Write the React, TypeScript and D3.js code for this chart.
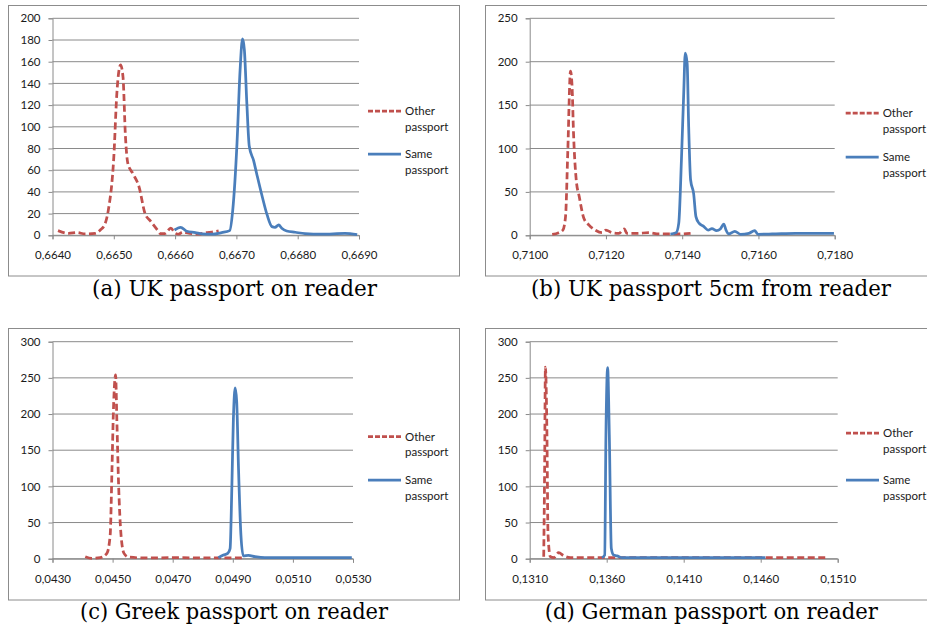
import React, { useEffect, useRef } from "react";
import * as d3 from "d3";

// values: [x, count]
const ukOther = [
  [0.66409, 4.3], [0.66426, 1.8], [0.6644, 2.5], [0.66453, 1.2], [0.6647, 1.8],
  [0.66478, 4.9], [0.66486, 11], [0.66491, 23], [0.665, 72], [0.66505, 131],
  [0.66511, 157], [0.66515, 146], [0.66519, 91], [0.66523, 66], [0.66531, 57],
  [0.66541, 45], [0.66551, 20], [0.6656, 13], [0.66571, 5], [0.66576, 1.5],
  [0.66583, 1.5], [0.66593, 6.5], [0.666, 2], [0.66606, 1], [0.66612, 3],
  [0.66622, 2], [0.66638, 1], [0.6665, 2.5], [0.6666, 3], [0.66671, 4],
];
const ukSame = [
  [0.66599, 4.9], [0.66609, 7.4], [0.66619, 3.7], [0.66633, 2.5], [0.66644, 1.2],
  [0.6666, 1], [0.66676, 2.5], [0.66689, 4.3], [0.66694, 23], [0.66701, 85],
  [0.66706, 152], [0.6671, 181], [0.66713, 171], [0.66717, 122], [0.66721, 82],
  [0.66728, 69], [0.66733, 57], [0.66742, 36], [0.6675, 19], [0.66758, 8],
  [0.66763, 7.4], [0.66769, 9.5], [0.66774, 6.5], [0.66782, 4], [0.66796, 2.8],
  [0.66812, 1.5], [0.66839, 1], [0.66877, 1.8], [0.66897, 0.6],
];
const uk5Other = [
  [0.71059, 1], [0.71076, 3], [0.71087, 6], [0.71094, 21.5], [0.711, 98],
  [0.71107, 189], [0.71111, 173], [0.71115, 117], [0.71122, 64], [0.7113, 44.5],
  [0.71142, 19.6], [0.71155, 12], [0.71172, 6], [0.7119, 3], [0.712, 6],
  [0.71216, 3], [0.71234, 2.3], [0.71248, 7.3], [0.71255, 2.3], [0.71282, 2.3],
  [0.71312, 3], [0.71339, 1.5], [0.71365, 1.5], [0.71391, 1.5], [0.71422, 2.3],
];
const uk5Same = [
  [0.71369, 1.5], [0.71384, 3], [0.71391, 14], [0.71398, 87], [0.71404, 164],
  [0.71408, 210], [0.71413, 198], [0.71417, 125], [0.71422, 64], [0.7143, 48],
  [0.71436, 21.5], [0.71444, 14], [0.71457, 10], [0.71468, 6], [0.71478, 7.7],
  [0.7149, 5.4], [0.715, 7.3], [0.71509, 13], [0.71515, 6], [0.71522, 1.5],
  [0.71538, 4.6], [0.71553, 1.2], [0.71575, 2.3], [0.7159, 5.4], [0.71599, 1.2],
  [0.71636, 1.5], [0.71697, 2.3], [0.71798, 2.3],
];
const greekOther = [
  [0.04409, 2.8], [0.04431, 0.5], [0.04459, 1.4], [0.04481, 7.4], [0.04492, 33],
  [0.04498, 125], [0.04503, 208], [0.0451, 254], [0.04514, 194], [0.0452, 102],
  [0.04528, 33], [0.04538, 7.4], [0.04553, 2.3], [0.04608, 1], [0.04719, 1.4],
  [0.0483, 1], [0.04874, 1], [0.0493, 1],
];
const greekSame = [
  [0.04852, 1.4], [0.04869, 5], [0.04883, 7.4], [0.04891, 14], [0.04897, 102],
  [0.04902, 194], [0.04908, 236], [0.04913, 217], [0.04919, 125], [0.04927, 33],
  [0.04935, 4], [0.04952, 4.6], [0.04974, 2.8], [0.05007, 1.4], [0.05296, 1.4],
];
const germanOther = [
  [0.13191, 2.8], [0.13197, 125], [0.13202, 265], [0.13212, 171], [0.13219, 33],
  [0.13234, 2.8], [0.13256, 1.4], [0.13288, 8.3], [0.13321, 4], [0.13364, 1.4],
  [0.13483, 1.4], [0.13591, 1.4], [0.1504, 1.4],
];
const germanSame = [
  [0.13569, 1.4], [0.13587, 5], [0.13595, 171], [0.13606, 264], [0.13617, 171],
  [0.1363, 14], [0.13645, 5], [0.13667, 4], [0.137, 1.4], [0.1463, 1.4],
];

const captions = [
  "(a) UK passport on reader",
  "(b) UK passport 5cm from reader",
  "(c) Greek passport on reader",
  "(d) German passport on reader",
];
const legendLabels = [["Other", "passport"], ["Same", "passport"]];

const RED = "#c0504d";
const BLUE = "#4a7ebb";
const GRID = "#8a8a8a";
const SANS = "Lato, 'Open Sans', sans-serif";

const panels = [
  {
    frame: [8.5, 5.5, 451, 270.5], left: 52.5, right: 359, top: 18.3, bottom: 235.3,
    xDomain: [0.664, 0.669], xStep: 0.001, yMax: 200, yStep: 20,
    other: ukOther, same: ukSame, capX: 234.5, capY: 296, capW: 285,
    legX: 368, legY: [111, 154],
  },
  {
    frame: [485.5, 5.5, 460, 270.5], left: 529.7, right: 834.7, top: 18.3, bottom: 235.3,
    xDomain: [0.71, 0.718], xStep: 0.002, yMax: 250, yStep: 50,
    other: uk5Other, same: uk5Same, capX: 711, capY: 296, capW: 360,
    legX: 845.7, legY: [113, 157],
  },
  {
    frame: [8.5, 328.5, 451, 271.5], left: 52.5, right: 353, top: 341.7, bottom: 558.7,
    xDomain: [0.043, 0.053], xStep: 0.002, yMax: 300, yStep: 50,
    other: greekOther, same: greekSame, capX: 234, capY: 619, capW: 308,
    legX: 368, legY: [436.7, 480],
  },
  {
    frame: [485.5, 328.5, 460, 271.5], left: 529.7, right: 837.7, top: 341.7, bottom: 558.7,
    xDomain: [0.131, 0.151], xStep: 0.005, yMax: 300, yStep: 50,
    other: germanOther, same: germanSame, capX: 711.3, capY: 619, capW: 333,
    legX: 846, legY: [433, 480],
  },
];

const fmt = (v: number) => d3.format(".4f")(v).replace(".", ",");

export default function App() {
  const ref = useRef<SVGSVGElement>(null);

  useEffect(() => {
    const svg = d3.select(ref.current);
    svg.selectAll("*").remove();

    panels.forEach((p, i) => {
      const g = svg.append("g");

      g.append("rect")
        .attr("x", p.frame[0]).attr("y", p.frame[1])
        .attr("width", p.frame[2]).attr("height", p.frame[3])
        .attr("fill", "#fff").attr("stroke", "#8c8c8c").attr("stroke-width", 1);

      const x = d3.scaleLinear().domain(p.xDomain).range([p.left, p.right]);
      const y = d3.scaleLinear().domain([0, p.yMax]).range([p.bottom, p.top]);

      const yTicks = d3.range(0, p.yMax + 0.001, p.yStep);
      const xTicks = d3.range(0, Math.round((p.xDomain[1] - p.xDomain[0]) / p.xStep) + 1)
        .map(k => p.xDomain[0] + k * p.xStep);

      // gridlines
      g.selectAll(".grid").data(yTicks).enter().append("line")
        .attr("x1", p.left).attr("x2", p.right)
        .attr("y1", d => y(d)).attr("y2", d => y(d))
        .attr("stroke", GRID).attr("stroke-width", 1);

      // axes
      const yAxis = d3.axisLeft(y).tickValues(yTicks).tickSize(4).tickPadding(8)
        .tickFormat(d => String(d));
      const ya = g.append("g").attr("transform", `translate(${p.left},0)`).call(yAxis);
      const xAxis = d3.axisBottom(x).tickValues(xTicks).tickSize(4).tickPadding(12)
        .tickFormat(d => fmt(+d));
      const xa = g.append("g").attr("transform", `translate(0,${p.bottom})`).call(xAxis);
      [ya, xa].forEach(a => {
        a.select(".domain").attr("stroke", GRID);
        a.selectAll(".tick line").attr("stroke", GRID);
        a.selectAll("text")
          .attr("fill", "#1a1a1a")
          .style("font-family", SANS)
          .style("font-size", "11.5px");
      });

      const line = d3.line<number[]>()
        .x(d => x(d[0]))
        .y(d => y(d[1]))
        .curve(d3.curveMonotoneX);

      g.append("path").datum(p.other).attr("d", line)
        .attr("fill", "none").attr("stroke", RED).attr("stroke-width", 2.75)
        .attr("stroke-dasharray", "7,3.5");
      g.append("path").datum(p.same).attr("d", line)
        .attr("fill", "none").attr("stroke", BLUE).attr("stroke-width", 2.75);

      // legend
      legendLabels.forEach((lab, j) => {
        const ly = p.legY[j];
        g.append("line")
          .attr("x1", p.legX).attr("x2", p.legX + 33)
          .attr("y1", ly).attr("y2", ly)
          .attr("stroke", j === 0 ? RED : BLUE).attr("stroke-width", 2.75)
          .attr("stroke-dasharray", j === 0 ? "5,2" : null);
        lab.forEach((t, k) => {
          g.append("text")
            .attr("x", p.legX + 37).attr("y", ly + k * 15.5)
            .attr("dy", "0.35em")
            .style("font-family", SANS)
            .style("font-size", "11.5px")
            .attr("fill", "#1a1a1a")
            .text(t);
        });
      });

      g.append("text")
        .attr("x", p.capX).attr("y", p.capY)
        .attr("text-anchor", "middle")
        .attr("textLength", p.capW)
        .attr("lengthAdjust", "spacingAndGlyphs")
        .style("font-family", "'DejaVu Serif', 'Liberation Serif', serif")
        .style("font-size", "22px")
        .attr("fill", "#000")
        .text(captions[i]);
    });
  }, []);

  return (
    <svg
      ref={ref}
      width={927}
      height={626}
      style={{ position: "fixed", left: 0, top: 0, background: "#fff" }}
    />
  );
}
